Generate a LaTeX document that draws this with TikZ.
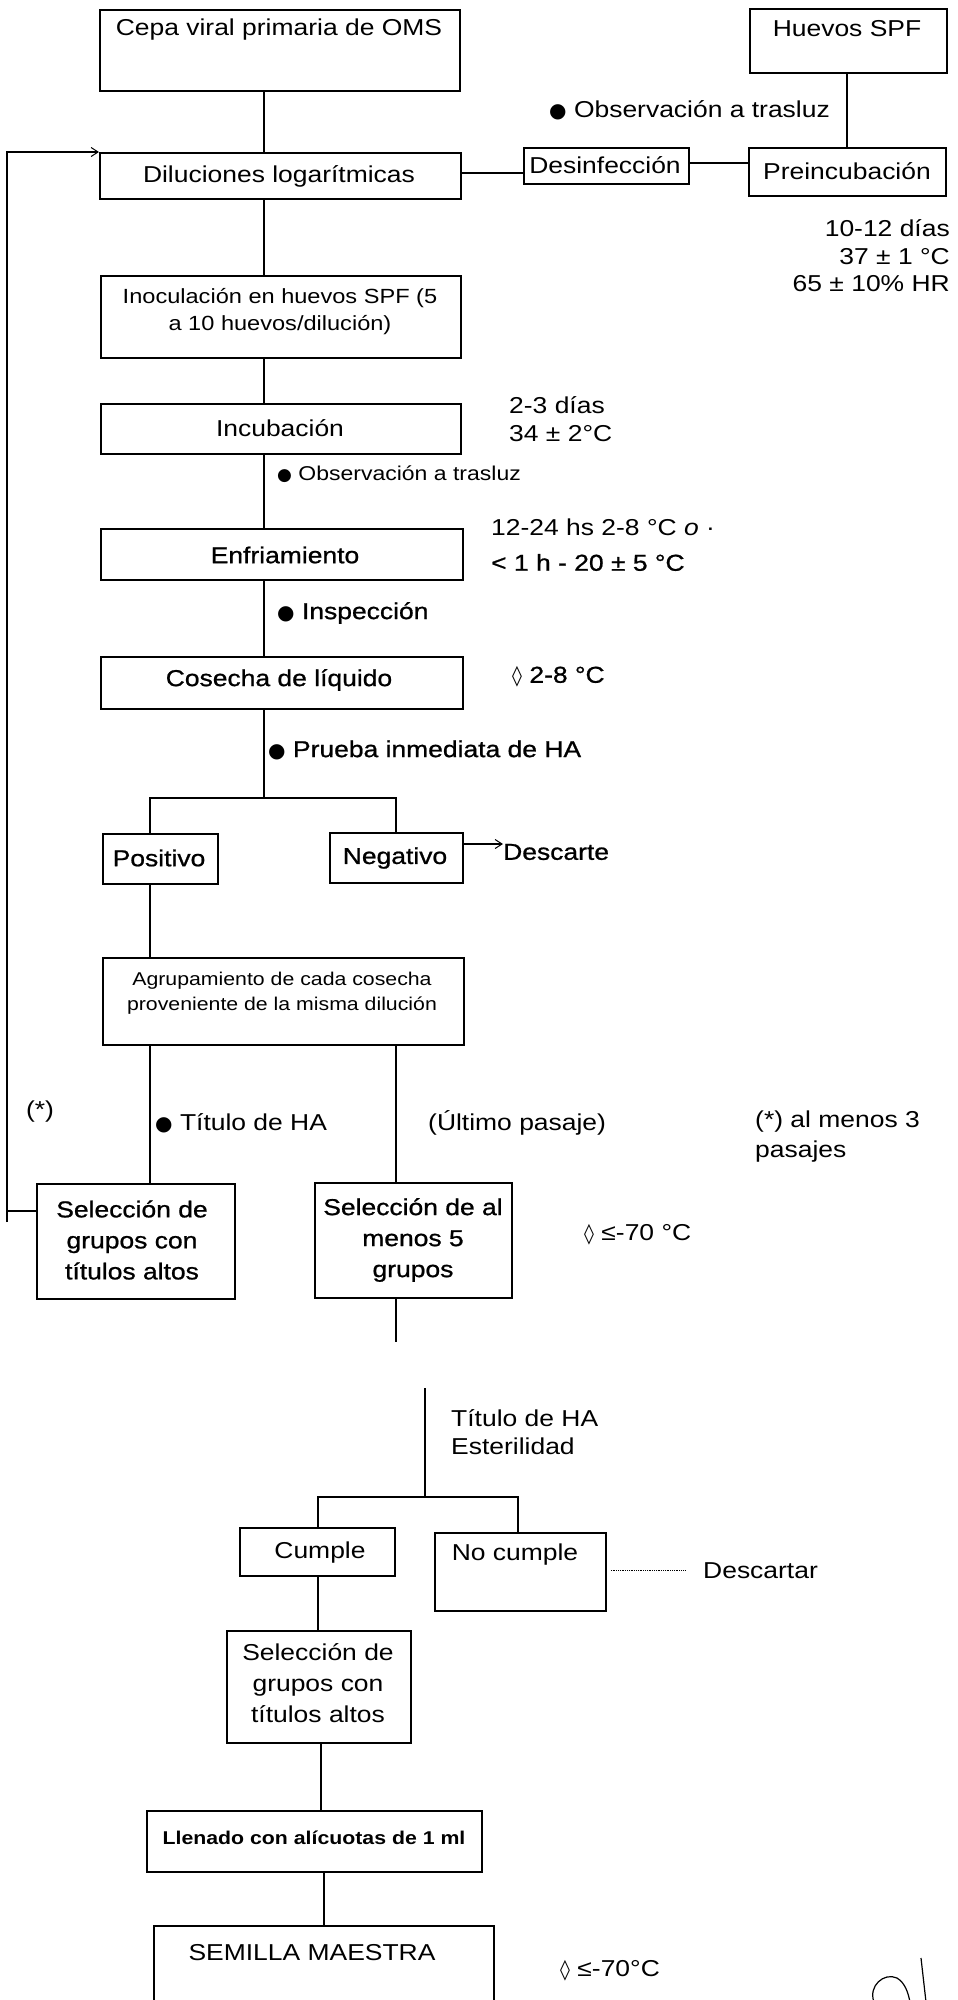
\documentclass[tikz,border=0pt]{standalone}
\usepackage{fontspec}
\setmainfont{Liberation Sans}[FakeStretch=1.15]
\newfontfamily\darkfont{Liberation Sans}[FakeStretch=1.15, FakeBold=0.9]
\newfontfamily\symfont{DejaVu Sans}
\usetikzlibrary{arrows.meta}

% small marks set in a font that has them
\newcommand\bulletmark{{\symfont\fontsize{20}{20}\selectfont\raisebox{0pt}{●}}}
\newcommand\lozmark{{\symfont\fontsize{20}{20}\selectfont ◊}}

\tikzset{
  box/.style={draw, line width=1.8pt, inner sep=0pt, anchor=north west},
  link/.style={line width=1.1pt},
  txt/.style={inner sep=0pt, align=center, font=\fontsize{23}{28}\selectfont},
  dark/.style={font=\darkfont\fontsize{23}{28}\selectfont},
  note/.style={inner sep=0pt, anchor=west, align=left, font=\fontsize{23}{28}\selectfont},
  tip/.style={-{Straight Barb[length=7pt,width=9pt,line width=1pt]}},
}

% \mkbox{name}{x1}{y1}{x2}{y2}: empty framed box from top-left to bottom-right
\newcommand\mkbox[5]{\node[box, minimum width={#4pt-#2pt}, minimum height={#5pt-#3pt}] (#1) at (#2,#3) {};}

\begin{document}
\begin{tikzpicture}[x=1pt,y=-1pt]
\clip (0,0) rectangle (958,2000);
\fill[white] (0,0) rectangle (958,2000);

% column and row guides for connectors
\coordinate (colA) at (264,0);
\coordinate (colH) at (847,0);
\coordinate (colP) at (150,0);
\coordinate (colN) at (396,0);
\coordinate (colC) at (318,0);
\coordinate (colB) at (518,0);
\coordinate (colL) at (321,0);
\coordinate (colM) at (324,0);
\coordinate (rowD) at (0,173);
\coordinate (rowE) at (0,163);
\coordinate (rowX) at (0,844);
\coordinate (rowF) at (0,1211);
\coordinate (rowZ) at (0,1570);

% ---------- boxes ----------
\mkbox{cepa}{99}{9}{459}{90}
\mkbox{huevos}{749}{8}{946}{72}
\mkbox{dil}{99}{152}{460}{198}
\mkbox{desinf}{523}{147}{688}{183}
\mkbox{preinc}{748}{147}{945}{195}
\mkbox{inoc}{100}{275}{460}{357}
\mkbox{incub}{100}{403}{460}{453}
\mkbox{enfr}{100}{528}{462}{579}
\mkbox{cosecha}{100}{656}{462}{708}
\mkbox{pos}{102}{833}{217}{883}
\mkbox{neg}{329}{832}{462}{882}
\mkbox{agrup}{102}{957}{463}{1044}
\mkbox{selA}{36}{1183}{234}{1298}
\mkbox{selB}{314}{1182}{511}{1297}
\mkbox{cumple}{239}{1527}{394}{1575}
\mkbox{nocumple}{434}{1532}{605}{1610}
\mkbox{selC}{226}{1630}{410}{1742}
\mkbox{llenado}{146}{1810}{481}{1871}
\mkbox{semilla}{153}{1925}{493}{2030}

% ---------- box texts ----------
\node[txt] (cepa-t) at (279,30) {Cepa viral primaria de OMS};
\node[txt] (huevos-t) at (847,29) {Huevos SPF};
\node[txt] (dil-t) at (279,176) {Diluciones logarítmicas};
\node[txt] (desinf-t) at (605,165) {Desinfección};
\node[txt] (preinc-t) at (847,171) {Preincubación};
\node[txt, font=\fontsize{20.5}{27}\selectfont] (inoc-t) at (280,312) {Inoculación en huevos SPF (5\\a 10 huevos/dilución)};
\node[txt] (incub-t) at (280,428) {Incubación};
\node[txt, dark] (enfr-t) at (285,555) {Enfriamiento};
\node[txt, dark] (cosecha-t) at (279,680) {Cosecha de líquido};
\node[txt, dark] (pos-t) at (159,858) {Positivo};
\node[txt, dark] (neg-t) at (395,858) {Negativo};
\node[txt, font=\fontsize{18.5}{25}\selectfont] (agrup-t) at (282,993) {Agrupamiento de cada cosecha\\proveniente de la misma dilución};
\node[txt, font=\darkfont\fontsize{23}{31}\selectfont] (selA-t) at (132,1240) {Selección de\\grupos con\\títulos altos};
\node[txt, font=\darkfont\fontsize{23}{31}\selectfont] (selB-t) at (413,1240) {Selección de al\\menos 5\\grupos};
\node[txt] (cumple-t) at (320,1553) {Cumple};
\node[txt] (nocumple-t) at (515,1555) {No cumple};
\node[txt, font=\fontsize{23}{31}\selectfont] (selC-t) at (318,1683) {Selección de\\grupos con\\títulos altos};
\node[txt, font=\bfseries\fontsize{18.5}{24}\selectfont] (llenado-t) at (314,1838) {Llenado con alícuotas de 1 ml};
\node[txt] (semilla-t) at (312,1953) {SEMILLA MAESTRA};

% ---------- side notes ----------
\node[note] (obsA) at (549,110) {\bulletmark\ Observación a trasluz};
\node[txt, align=right, anchor=east, font=\fontsize{23}{27.5}\selectfont] (condA) at (950,256) {10-12 días\\37 ± 1 °C\\65 ± 10\% HR};
\node[note, font=\fontsize{23}{28.5}\selectfont] (condB) at (509,419) {2-3 días\\34 ± 2°C};
\node[note, font=\fontsize{20}{24}\selectfont] (obsB) at (277,474) {{\symfont\fontsize{17}{17}\selectfont ●}\ Observación a trasluz};
\node[note, font=\fontsize{23}{35}\selectfont] (condC) at (491,545) {12-24 hs 2-8 °C {\itshape o} ·\\{\darkfont < 1 h - 20 ± 5 °C}};
\node[note, dark] (insp) at (277,613) {\bulletmark\ Inspección};
\node[note, dark] (tempA) at (512,677) {\lozmark\ 2-8 °C};
\node[note, dark] (prueba) at (268,750) {\bulletmark\ Prueba inmediata de HA};
\node[note, dark] (descarte) at (503,852) {Descarte};
\node[txt] (ast) at (40,1112) {(*)};
\node[note] (tituloA) at (155,1123) {\bulletmark\ Título de HA};
\node[note] (ultimo) at (428,1123) {(Último pasaje)};
\node[note, font=\fontsize{23}{30}\selectfont] (nota) at (755,1137) {(*) al menos 3\\pasajes};
\node[note] (tempB) at (584,1235) {\lozmark\ ≤-70 °C};
\node[note, font=\fontsize{23}{28}\selectfont] (ensayos) at (451,1432) {Título de HA\\Esterilidad};
\node[note] (descartar) at (703,1571) {Descartar};
\node[note] (tempC) at (560,1971) {\lozmark\ ≤-70°C};

% ---------- free ends and junctions ----------
\coordinate (splitA) at (264,798);
\coordinate (cutA) at (396,1342);
\coordinate (cutB) at (425,1388);
\coordinate (splitB) at (425,1497);
\coordinate (backA) at (7,1211);
\coordinate (backB) at (7,1222);

% ---------- connectors ----------
\draw[link] (cepa.south -| colA) -- (dil.north -| colA);
\draw[link] (huevos.south -| colH) -- (preinc.north -| colH);
\draw[link] (dil.east |- rowD) -- (desinf.west |- rowD);
\draw[link] (desinf.east |- rowE) -- (preinc.west |- rowE);
\draw[link] (dil.south -| colA) -- (inoc.north -| colA);
\draw[link] (inoc.south -| colA) -- (incub.north -| colA);
\draw[link] (incub.south -| colA) -- (enfr.north -| colA);
\draw[link] (enfr.south -| colA) -- (cosecha.north -| colA);
\draw[link] (cosecha.south -| colA) -- (splitA);
\draw[link] (pos.north -| colP) |- (splitA) -| (neg.north -| colN);
\draw[link, tip] (neg.east |- rowX) -- (descarte.west |- rowX);
\draw[link] (pos.south -| colP) -- (agrup.north -| colP);
\draw[link] (agrup.south -| colP) -- (selA.north -| colP);
\draw[link] (agrup.south -| colN) -- (selB.north -| colN);
\draw[link] (selB.south -| colN) -- (cutA);
\draw[link, line width=1.5pt] (selA.west |- rowF) -- (backA);
\draw[link, line width=1.5pt, tip] (backB) |- (dil.north west);

\draw[link] (cutB) -- (splitB);
\draw[link] (cumple.north -| colC) |- (splitB) -| (nocumple.north -| colB);
\draw[line width=0.8pt, densely dotted, shorten <=4pt, shorten >=17pt] (nocumple.east |- rowZ) -- (descartar.west |- rowZ);
\draw[link] (cumple.south -| colC) -- (selC.north -| colC);
\draw[link] (selC.south -| colL) -- (llenado.north -| colL);
\draw[link] (llenado.south -| colM) -- (semilla.north -| colM);

% handwritten initials in the lower corner
\draw[line width=1.2pt] (874,2002) .. controls (868,1986) and (884,1972) .. (897,1978) .. controls (905,1983) and (908,1992) .. (910,2002);
\draw[line width=1.2pt] (921,1958) -- (926,2002);
\end{tikzpicture}
\end{document}
